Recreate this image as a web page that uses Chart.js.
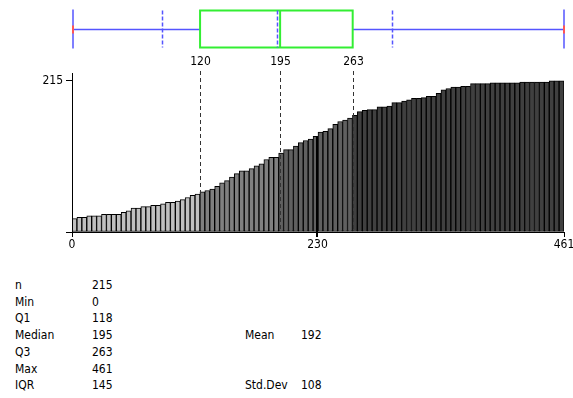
<!DOCTYPE html>
<html>
<head>
<meta charset="utf-8">
<script src="https://cdn.jsdelivr.net/npm/chart.js@4/dist/chart.umd.min.js"></script>
<style>
  body { margin: 0; background: #fff; }
  #wrap { position: relative; width: 573px; height: 398px; overflow: hidden; }
  #chart { position: absolute; left: 0; top: 0; }
  .stat { position: absolute; font: 12px "DejaVu Sans Condensed", "DejaVu Sans", sans-serif; color: #000; line-height: 14px; white-space: nowrap; }
</style>
</head>
<body>
<div id="wrap">
  <canvas id="chart" width="573" height="270"></canvas>
</div>
<script>
// cumulative count per bin (100 bins over 0..461)
var binWidth = 4.61;
var counts = [19, 21, 21, 23, 23, 23, 25, 25, 25, 25,
	28, 30, 34, 34, 36, 36, 38, 38, 40, 42,
	42, 44, 46, 49, 52, 54, 57, 59, 61, 65,
	70, 73, 78, 83, 87, 87, 90, 94, 97, 103,
	106, 106, 112, 117, 117, 122, 127, 130, 132, 136,
	142, 143, 147, 153, 157, 159, 162, 166, 171, 173,
	174, 174, 178, 178, 179, 184, 184, 186, 188, 190,
	190, 191, 193, 193, 197, 202, 204, 206, 206, 207,
	207, 211, 211, 211, 211, 212, 212, 212, 212, 212,
	212, 213, 213, 213, 213, 213, 213, 215, 215, 215];

var xTicks = [0, 230, 461];
var yTicks = [0, 215];
var quartileMarks = [120, 195, 263];
var boxStats = { min: 0, q1: 120, median: 195, q3: 263, max: 461, mean: 192, sd: 108 };

var statLabels = ["n", "Min", "Q1", "Median", "Q3", "Max", "IQR"];
var statValues = ["215", "0", "118", "195", "263", "461", "145"];
var sideLabels = ["", "", "", "Mean", "", "", "Std.Dev"];
var sideValues = ["", "", "", "192", "", "", "108"];

var shades = ["#c0c0c0", "#808080", "#606060", "#404040"];
var FONT = "'DejaVu Sans Condensed', 'DejaVu Sans', sans-serif";

function shadeFor( center ) {
	if ( center < quartileMarks[0] ) return shades[0];
	if ( center < quartileMarks[1] ) return shades[1];
	if ( center < quartileMarks[2] ) return shades[2];
	return shades[3];
}

var points = counts.map( function( c, i ) {
	return { x: ( i + 0.5 ) * binWidth, y: c };
} );

function line( ctx, x1, y1, x2, y2 ) {
	ctx.beginPath();
	ctx.moveTo( x1, y1 );
	ctx.lineTo( x2, y2 );
	ctx.stroke();
}

var overlay = {
	id: "overlay",
	afterDatasetsDraw: function( chart ) {
		var ctx = chart.ctx, area = chart.chartArea, x = chart.scales.x, y = chart.scales.y;
		ctx.save();

		// y axis line
		ctx.strokeStyle = "#000";
		ctx.lineWidth = 1;
		var ax = Math.round( area.left ) + 0.5;
		line( ctx, ax, area.top, ax, area.bottom + 5 );

		// quartile markers over the bars
		ctx.strokeStyle = "#333";
		ctx.setLineDash( [4, 3] );
		ctx.font = "12px " + FONT;
		ctx.fillStyle = "#000";
		ctx.textAlign = "center";
		ctx.textBaseline = "middle";
		quartileMarks.forEach( function( v ) {
			var px = Math.round( x.getPixelForValue( v ) ) + 0.5;
			line( ctx, px, 71, px, area.bottom );
			ctx.fillText( String( v ), px, 62 );
		} );
		ctx.setLineDash( [] );

		// middle tick runs up through its bar
		var mid = xTicks[1];
		var px = Math.round( x.getPixelForValue( mid ) );
		ctx.strokeStyle = "#000";
		ctx.lineWidth = 2;
		line( ctx, px, y.getPixelForValue( counts[Math.floor( mid / binWidth )] ), px, area.bottom + 5 );

		// box plot on top
		var top = 10.5, bottom = 47.5, centre = 29.5;
		var xMin = x.getPixelForValue( boxStats.min ), xMax = x.getPixelForValue( boxStats.max );
		ctx.strokeStyle = "#5555ff";
		ctx.lineWidth = 1.5;
		line( ctx, xMin + 1, centre, xMax, centre );
		line( ctx, xMin + 1, top - 1, xMin + 1, bottom + 1 );
		line( ctx, xMax, top - 1, xMax, bottom + 1 );
		ctx.setLineDash( [4, 2] );
		[boxStats.mean - boxStats.sd, boxStats.mean + boxStats.sd].forEach( function( v ) {
			var p = Math.round( x.getPixelForValue( v ) ) + 0.5;
			line( ctx, p, top, p, bottom );
		} );
		ctx.setLineDash( [] );
		ctx.strokeStyle = "#ff5555";
		ctx.lineWidth = 2;
		line( ctx, xMin + 1, centre - 4, xMin + 1, centre + 4 );
		line( ctx, xMax, centre - 4, xMax, centre + 4 );

		ctx.strokeStyle = "#33ee33";
		ctx.lineWidth = 2;
		var b1 = x.getPixelForValue( boxStats.q1 ), b3 = x.getPixelForValue( boxStats.q3 );
		ctx.fillStyle = "#fff";
		ctx.fillRect( b1, top, b3 - b1, bottom - top );
		ctx.strokeRect( b1, top, b3 - b1, bottom - top );
		var pm = x.getPixelForValue( boxStats.median );
		line( ctx, pm, top, pm, bottom );
		ctx.strokeStyle = "#5555ff";
		ctx.lineWidth = 1.5;
		ctx.setLineDash( [4, 2] );
		var pMean = Math.round( x.getPixelForValue( boxStats.mean ) ) + 0.5;
		line( ctx, pMean, top, pMean, bottom );

		ctx.restore();
	}
};

Chart.defaults.font.family = FONT;
Chart.defaults.font.size = 12;
Chart.defaults.color = "#000";

new Chart( document.getElementById( "chart" ), {
	type: "bar",
	data: {
		datasets: [{
			data: points,
			backgroundColor: points.map( function( p ) { return shadeFor( p.x ); } ),
			borderColor: "#000",
			borderWidth: 1,
			borderSkipped: false,
			barPercentage: 1,
			categoryPercentage: 1
		}]
	},
	options: {
		responsive: false,
		animation: false,
		devicePixelRatio: 1,
		layout: { padding: { top: 73, right: 9, left: 0, bottom: 0 } },
		plugins: { legend: { display: false }, tooltip: { enabled: false } },
		scales: {
			x: {
				type: "linear",
				min: 0,
				max: 461,
				offset: false,
				afterBuildTicks: function( scale ) {
					scale.ticks = xTicks.map( function( v ) { return { value: v }; } );
				},
				afterFit: function( scale ) {
					scale.height = 38;
					scale.paddingLeft = 0;
					scale.paddingRight = 0;
				},
				ticks: { autoSkip: false, maxRotation: 0, padding: 1 },
				grid: { offset: false, drawOnChartArea: false, drawTicks: true, tickLength: 5, color: "#000" },
				border: { color: "#000", width: 1 }
			},
			y: {
				min: 0,
				max: 226,
				afterBuildTicks: function( scale ) {
					scale.ticks = yTicks.map( function( v ) { return { value: v }; } );
				},
				afterFit: function( scale ) {
					scale.width = 72;
				},
				ticks: {
					padding: 3,
					callback: function( v ) { return v === 0 ? "" : String( v ); }
				},
				grid: { drawOnChartArea: false, drawTicks: true, tickLength: 6, color: "#000" },
				border: { color: "#000", width: 1 }
			}
		}
	},
	plugins: [overlay]
} );

// statistics table under the chart
var wrap = document.getElementById( "wrap" );
function addStat( text, left, top ) {
	if ( !text ) return;
	var d = document.createElement( "div" );
	d.className = "stat";
	d.textContent = text;
	d.style.left = left + "px";
	d.style.top = top + "px";
	wrap.appendChild( d );
}
statLabels.forEach( function( label, i ) {
	var top = 278 + i * 16.7;
	addStat( label, 15, top );
	addStat( statValues[i], 92, top );
	addStat( sideLabels[i], 245, top );
	addStat( sideValues[i], 301, top );
} );
</script>
</body>
</html>
